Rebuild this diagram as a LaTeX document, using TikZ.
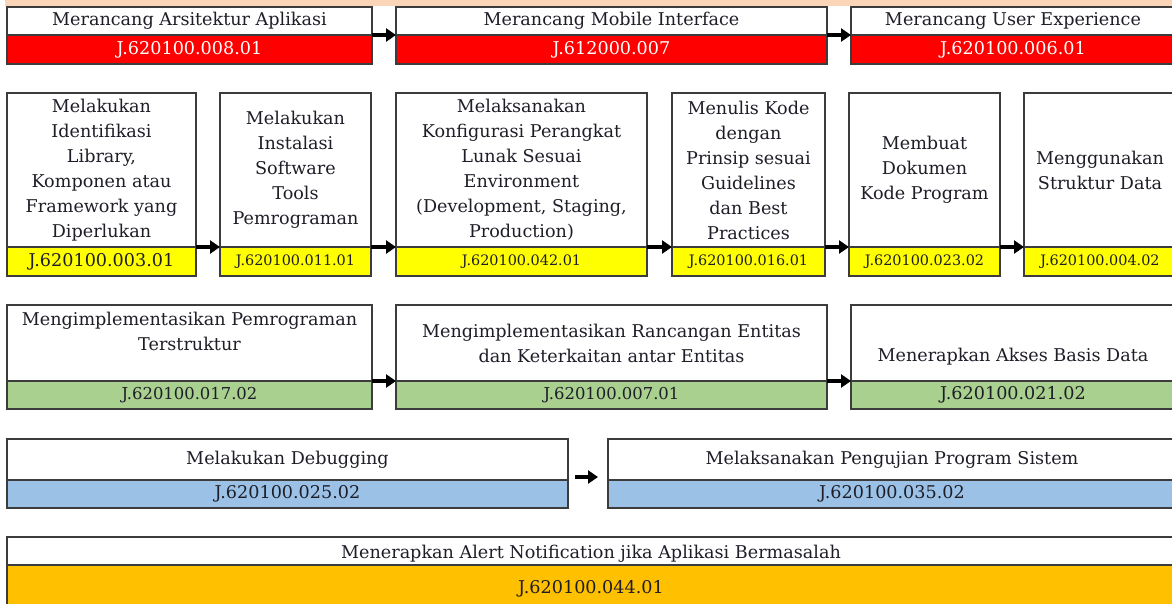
\documentclass[tikz,border=0pt]{standalone}
\usepackage{fontspec}
\setmainfont{DejaVu Serif}
\usetikzlibrary{arrows.meta}

\definecolor{unitred}{RGB}{255,0,0}
\definecolor{unityellow}{RGB}{255,255,0}
\definecolor{unitgreen}{RGB}{169,208,142}
\definecolor{unitblue}{RGB}{155,194,230}
\definecolor{unitorange}{RGB}{255,192,0}
\definecolor{peach}{RGB}{250,213,184}
\definecolor{ink}{RGB}{30,30,40}
\definecolor{rim}{RGB}{60,60,60}

\begin{document}
\begin{tikzpicture}[x=1pt, y=-1pt,
	title/.style={draw=rim, fill=white, line width=1.2pt, inner sep=0pt, outer sep=0pt, anchor=north west, align=center, text=ink},
	code/.style={draw=rim, line width=1.2pt, inner sep=0pt, outer sep=0pt, anchor=north west, text=ink},
	flow/.style={-{Triangle[length=10pt, width=13pt]}, line width=3.5pt},
	big/.style={font=\fontsize{17.6}{25}\selectfont},
	mid/.style={font=\fontsize{16.4}{25}\selectfont},
	small/.style={font=\fontsize{14.4}{25}\selectfont}]
	% \draw[help lines] (0,0) grid[step=50] (1172,603);
	\useasboundingbox (0,0) rectangle (1172,603);
	\fill[peach] (5,0) rectangle (1172,6);

	% row 1
	\node[title, big, minimum width=365, minimum height=28] (arch) at (7,7) {Merancang Arsitektur Aplikasi};
	\node[code, big, fill=unitred, text=white, minimum width=365, minimum height=29] (archcode) at (7,35) {J.620100.008.01};
	\node[title, big, minimum width=431, minimum height=28] (mobile) at (396,7) {Merancang Mobile Interface};
	\node[code, big, fill=unitred, text=white, minimum width=431, minimum height=29] (mobilecode) at (396,35) {J.612000.007};
	\node[title, big, minimum width=324, minimum height=28] (ux) at (851,7) {Merancang User Experience};
	\node[code, big, fill=unitred, text=white, minimum width=324, minimum height=29] (uxcode) at (851,35) {J.620100.006.01};
	\draw[flow] (archcode.north east) -- (mobilecode.north west);
	\draw[flow] (mobilecode.north east) -- (uxcode.north west);

	% row 2
	\node[title, big, minimum width=189, minimum height=154] (library) at (7,93) {Melakukan\\Identifikasi\\Library,\\Komponen atau\\Framework yang\\Diperlukan};
	\node[code, big, fill=unityellow, minimum width=189, minimum height=29] (librarycode) at (7,247) {J.620100.003.01};
	\node[title, big, minimum width=151, minimum height=154] (install) at (220,93) {Melakukan\\Instalasi\\Software\\Tools\\Pemrograman};
	\node[code, small, fill=unityellow, minimum width=151, minimum height=29] (installcode) at (220,247) {J.620100.011.01};
	\node[title, big, minimum width=251, minimum height=154] (config) at (396,93) {Melaksanakan\\Konfigurasi Perangkat\\Lunak Sesuai\\Environment\\(Development, Staging,\\Production)};
	\node[code, small, fill=unityellow, minimum width=251, minimum height=29] (configcode) at (396,247) {J.620100.042.01};
	\node[title, big, minimum width=153, minimum height=154] (clean) at (672,93) {Menulis Kode\\dengan\\Prinsip sesuai\\Guidelines\\dan Best\\Practices};
	\node[code, small, fill=unityellow, minimum width=153, minimum height=29] (cleancode) at (672,247) {J.620100.016.01};
	\node[title, big, minimum width=151, minimum height=154] (docs) at (849,93) {Membuat\\Dokumen\\Kode Program};
	\node[code, small, fill=unityellow, minimum width=151, minimum height=29] (docscode) at (849,247) {J.620100.023.02};
	\node[title, big, minimum width=152, minimum height=154] (struct) at (1024,93) {Menggunakan\\Struktur Data};
	\node[code, small, fill=unityellow, minimum width=152, minimum height=29] (structcode) at (1024,247) {J.620100.004.02};
	\draw[flow] (librarycode.north east) -- (installcode.north west);
	\draw[flow] (installcode.north east) -- (configcode.north west);
	\draw[flow] (configcode.north east) -- (cleancode.north west);
	\draw[flow] (cleancode.north east) -- (docscode.north west);
	\draw[flow] (docscode.north east) -- (structcode.north west);

	% row 3
	\node[title, minimum width=365, minimum height=76] (prog) at (7,305) {};
	\node[big, align=center, text=ink, anchor=north, inner sep=0pt] (progtext) at (189.5,312) {Mengimplementasikan Pemrograman\\Terstruktur};
	\node[code, mid, fill=unitgreen, minimum width=365, minimum height=28] (progcode) at (7,381) {J.620100.017.02};
	\node[title, big, minimum width=431, minimum height=76] (entity) at (396,305) {Mengimplementasikan Rancangan Entitas\\dan Keterkaitan antar Entitas};
	\node[code, mid, fill=unitgreen, minimum width=431, minimum height=28] (entitycode) at (396,381) {J.620100.007.01};
	\node[title, minimum width=324, minimum height=76] (db) at (851,305) {};
	\node[big, text=ink, inner sep=0pt] (dbtext) at (1013,357) {Menerapkan Akses Basis Data};
	\node[code, big, fill=unitgreen, minimum width=324, minimum height=28] (dbcode) at (851,381) {J.620100.021.02};
	\draw[flow] (progcode.north east) -- (entitycode.north west);
	\draw[flow] (entitycode.north east) -- (dbcode.north west);

	% row 4
	\node[title, big, minimum width=561, minimum height=41] (debug) at (7,439) {Melakukan Debugging};
	\node[code, big, fill=unitblue, minimum width=561, minimum height=28] (debugcode) at (7,480) {J.620100.025.02};
	\node[title, big, minimum width=568, minimum height=41] (test) at (608,439) {Melaksanakan Pengujian Program Sistem};
	\node[code, big, fill=unitblue, minimum width=568, minimum height=28] (testcode) at (608,480) {J.620100.035.02};
	\draw[flow, shorten <=7pt, shorten >=10pt] ([yshift=3]debug.south east) -- ([yshift=3]test.south west);

	% row 5
	\node[title, big, minimum width=1168, minimum height=28] (alert) at (7,537) {};
	\node[big, text=ink, inner sep=0pt] (alerttext) at (591,554) {Menerapkan Alert Notification jika Aplikasi Bermasalah};
	\node[code, big, fill=unitorange, minimum width=1168, minimum height=47] (alertcode) at (7,565) {J.620100.044.01};
\end{tikzpicture}
\end{document}
